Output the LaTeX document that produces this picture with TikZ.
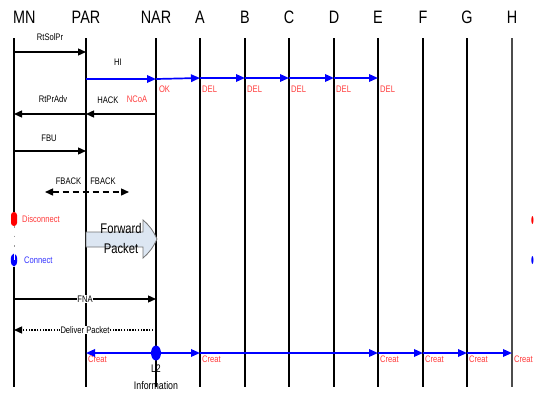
\documentclass[tikz,border=0pt]{standalone}
\usepackage{fontspec}
\setmainfont{Liberation Sans}[FakeStretch=0.8]
\usetikzlibrary{arrows.meta,shapes.geometric}
\definecolor{lblred}{HTML}{FF3B3B}
\definecolor{msgblue}{HTML}{0000FF}
\definecolor{lblblue}{HTML}{3333FF}
\definecolor{pktfill}{HTML}{DCE6F2}
\begin{document}
\begin{tikzpicture}[x=1pt,y=-1pt,
  headlbl/.style={font=\fontsize{18}{18}\selectfont, inner sep=0pt},
  lbl/.style={font=\fontsize{9.5}{10}\selectfont, inner sep=0pt},
  redlbl/.style={lbl, text=lblred},
  life/.style={line width=1.2pt},
  tip/.style={-{Triangle[length=8pt,width=7pt]}},
  msg/.style={line width=1.3pt, tip},
  bmsg/.style={line width=1.7pt, draw=msgblue, color=msgblue, -{Triangle[length=9pt,width=7.5pt]}}
]
\useasboundingbox (0,0) rectangle (536,394);

% headers and lifelines
\node[headlbl, anchor=west] (hMN) at (13,17.5) {MN};
\foreach \n/\x in {PAR/86,NAR/156,A/200,B/245,C/289,D/334,E/378,F/423,G/467,H/512}{
  \node[headlbl] (h\n) at (\x,17.5) {\n};
}
\foreach \n/\x in {MN/14,PAR/86,NAR/156,A/200,B/245,C/289,D/334,E/378,F/423,G/467}{
  \coordinate (\n) at (\x,38);
  \coordinate (\n-b) at (\x,387);
}
\coordinate (H) at (512,38);
\coordinate (H-b) at (512,387);
\foreach \n in {PAR,NAR,A,B,C,D,E,F,G}{
  \draw[life] (\n) -- (\n-b);
}
\draw[life, draw=black!70] (H) -- (H-b);

% MN lifeline with disconnect / connect
\node[fill=red, rounded corners=3pt, minimum width=6pt, minimum height=14pt, inner sep=0pt] (disc) at (14,219) {};
\node[fill=msgblue, ellipse, minimum width=6.5pt, minimum height=13pt, inner sep=0pt] (conn) at (14,260) {};
\draw[white, line width=0.8pt] (conn.north) -- (conn.center);
\draw[life] (MN) -- (disc.north);
\draw[black!40, line width=1pt, dash pattern=on 1.5pt off 8pt] (disc.south) -- (conn.north);
\draw[life] (conn.south) -- (MN-b);
\node[redlbl, anchor=west] (ldisc) at (22,219) {Disconnect};
\node[lbl, text=lblblue, anchor=west] (lconn) at (24,260) {Connect};

% right edge markers (cut off by the picture edge)
\node[fill=red, ellipse, minimum width=2.2pt, minimum height=8pt, inner sep=0pt] (rdisc) at (532.4,220) {};
\node[fill=msgblue, ellipse, minimum width=2.2pt, minimum height=8pt, inner sep=0pt] (rconn) at (532.4,260) {};

% RtSolPr
\draw[msg] (MN |- 0,52) -- (PAR |- 0,52);
\node[lbl] (lrtsol) at (50,37) {RtSolPr};

% HI and DEL chain
\draw[bmsg] (PAR |- 0,79) -- (NAR |- 0,79);
\node[lbl] (lhi) at (118,62) {HI};
\draw[bmsg] (NAR |- 0,79) -- (A |- 0,78);
\draw[bmsg] (A |- 0,78) -- (B |- 0,78);
\draw[bmsg] (B |- 0,78) -- (C |- 0,78);
\draw[bmsg] (C |- 0,78) -- (D |- 0,78);
\draw[bmsg] (D |- 0,78) -- (E |- 0,78);
\node[redlbl] (lok) at (164.5,89) {OK};
\foreach \n in {A,B,C,D,E}{
  \node[redlbl, anchor=west] (ldel\n) at ([xshift=2pt]\n |- 0,89) {DEL};
}

% HACK / RtPrAdv
\draw[msg] (NAR |- 0,114) -- (PAR |- 0,114);
\draw[msg] (PAR |- 0,114) -- (MN |- 0,114);
\node[lbl] (lrtpr) at (53,99.5) {RtPrAdv};
\node[lbl] (lhack) at (108,100) {HACK};
\node[redlbl] (lncoa) at (137,99.5) {NCoA};

% FBU
\draw[msg] (MN |- 0,151) -- (PAR |- 0,151);
\node[lbl] (lfbu) at (49,138) {FBU};

% FBACK
\coordinate (fbl) at (45,192);
\coordinate (fbr) at (129,192);
\draw[line width=1.4pt, dash pattern=on 6pt off 4pt, {Triangle[length=8pt,width=7pt]}-{Triangle[length=8pt,width=7pt]}] (fbl) -- (fbr);
\node[lbl] (lfb1) at (68.5,181.5) {FBACK};
\node[lbl] (lfb2) at (103,181.5) {FBACK};

% Forward Packet block arrow
\draw[fill=pktfill, draw=black!55, line width=0.8pt]
  (86,232) -- (143,232) -- (143,220) to[bend left=12] (157,239)
  to[bend left=12] (143,258) -- (143,247) -- (86,247) -- cycle;
\node[font=\fontsize{14}{14}\selectfont, inner sep=0pt] (lfwd) at (121,228) {Forward};
\node[font=\fontsize{14}{14}\selectfont, inner sep=0pt] (lpkt) at (121,248) {Packet};

% FNA
\draw[msg] (MN |- 0,299) -- (NAR |- 0,299);
\node[lbl, fill=white, inner sep=0.4pt] (lfna) at (85,299) {FNA};

% Deliver Packet
\draw[line width=1.3pt, dash pattern=on 1.4pt off 1.4pt, tip] (NAR |- 0,330) -- (MN |- 0,330);
\node[lbl, fill=white, inner sep=0.4pt] (ldel) at (85,330) {Deliver Packet};

% L2 trigger and Creat chain
\node[fill=msgblue, ellipse, minimum width=10pt, minimum height=15pt, inner sep=0pt] (l2) at (156,353) {};
\draw[bmsg] (l2) -- (PAR |- 0,353);
\draw[bmsg] (l2) -- (A |- 0,353);
\draw[bmsg] (A |- 0,353) -- (E |- 0,353);
\draw[bmsg] (E |- 0,353) -- (F |- 0,353);
\draw[bmsg] (F |- 0,353) -- (G |- 0,353);
\draw[bmsg] (G |- 0,353) -- (H |- 0,353);
\foreach \n in {PAR,A,E,F,G,H}{
  \node[redlbl, anchor=west] (lcr\n) at ([xshift=2pt]\n |- 0,359.5) {Creat};
}
\node[font=\fontsize{11}{11}\selectfont, inner sep=0pt] (ll2) at (156,369) {L2};
\node[font=\fontsize{11}{11}\selectfont, inner sep=0pt] (linfo) at (156,386) {Information};
\end{tikzpicture}
\end{document}
